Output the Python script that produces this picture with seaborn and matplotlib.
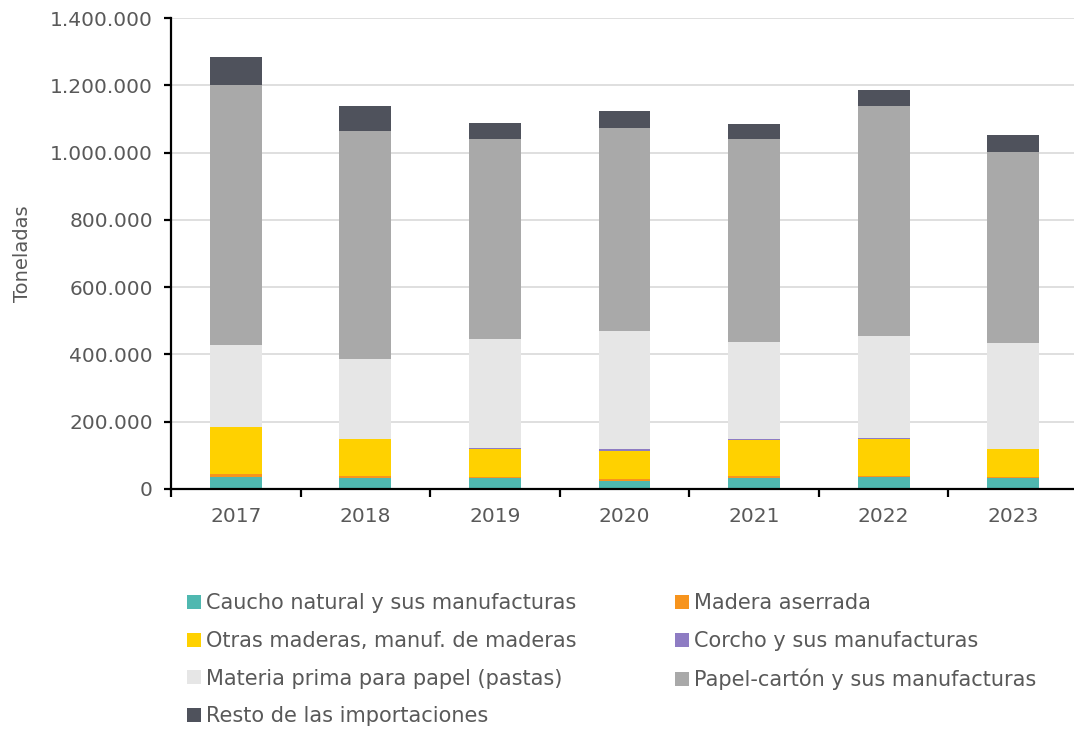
import matplotlib
matplotlib.use("Agg")
import matplotlib.pyplot as plt
import matplotlib.ticker as mticker
from matplotlib.patches import Patch
import pandas as pd
import seaborn as sns

# Data (toneladas)
years = ["2017", "2018", "2019", "2020", "2021", "2022", "2023"]
caucho = [37000, 33000, 34000, 25000, 34000, 36000, 34000]
madera = [9000, 6000, 3000, 4000, 5000, 3000, 3000]
otras = [137000, 109000, 82000, 85000, 108000, 109000, 81000]
corcho = [2000, 2000, 2000, 4000, 3000, 4000, 1000]
materia = [242000, 236000, 324000, 353000, 288000, 303000, 315000]
papel = [775000, 679000, 596000, 602000, 603000, 684000, 567000]
resto = [83000, 74000, 48000, 51000, 45000, 47000, 51000]

series_names = [
    "Caucho natural y sus manufacturas",
    "Madera aserrada",
    "Otras maderas, manuf. de maderas",
    "Corcho y sus manufacturas",
    "Materia prima para papel (pastas)",
    "Papel-cartón y sus manufacturas",
    "Resto de las importaciones",
]
series_values = [caucho, madera, otras, corcho, materia, papel, resto]
colors = ["#4fb8b0", "#f7941d", "#ffd100", "#8e7cc3", "#e6e6e6", "#a9a9a9", "#4f525c"]

df = pd.DataFrame(dict(zip(series_names, series_values)), index=years)

sns.set_style("white")
plt.rcParams["font.family"] = ["DejaVu Sans"]
text_color = "#595959"

fig = plt.figure(figsize=(10.74, 7.31), dpi=100)
ax = fig.add_axes([171 / 1074, 1 - 489 / 731, (1078 - 171) / 1074, (489 - 18) / 731])

# stacked bars, one seaborn call per series
bottom = pd.Series(0.0, index=years)
for name, col in zip(series_names, colors):
    sns.barplot(x=df.index, y=df[name].values, color=col, width=0.4,
                bottom=bottom.values, ax=ax, saturation=1, edgecolor="none")
    bottom = bottom + df[name]

ax.set_ylim(0, 1400000)
ax.set_xlim(-0.5, 6.5)
ax.yaxis.set_major_locator(mticker.MultipleLocator(200000))
ax.yaxis.set_major_formatter(mticker.FuncFormatter(lambda v, p: f"{int(v):,}".replace(",", ".")))
ax.grid(axis="y", color="#d9d9d9", linewidth=1.2)
ax.set_axisbelow(True)

for s in ["top", "right"]:
    ax.spines[s].set_visible(False)
for s in ["left", "bottom"]:
    ax.spines[s].set_color("black")
    ax.spines[s].set_linewidth(1.6)

ax.tick_params(axis="y", left=True, length=5, width=1.6, color="black",
               labelsize=14.5, labelcolor=text_color, pad=8)
ax.tick_params(axis="x", which="major", length=0, labelsize=14.5, labelcolor=text_color, pad=13)
ax.set_xticks([i + 0.5 for i in range(-1, 7)], minor=True)
ax.tick_params(axis="x", which="minor", bottom=True, length=6, width=1.6, color="black")

ax.set_xlabel("")
ax.set_ylabel("Toneladas", fontsize=14, color=text_color, labelpad=13)

handles = [Patch(facecolor=c, edgecolor="none", label=n) for n, c in zip(series_names, colors)]
leg_kw = dict(frameon=False, fontsize=15, labelcolor=text_color, handlelength=0.65,
              handleheight=0.65, handletextpad=0.25, labelspacing=0.85, borderaxespad=0)
fig.legend(handles=[handles[i] for i in (0, 2, 4, 6)], loc="upper left",
           bbox_to_anchor=(179 / 1074, 1 - 585 / 731), **leg_kw)
fig.legend(handles=[handles[i] for i in (1, 3, 5)], loc="upper left",
           bbox_to_anchor=(667 / 1074, 1 - 585 / 731), **leg_kw)

fig.savefig("out.png", dpi=100)
